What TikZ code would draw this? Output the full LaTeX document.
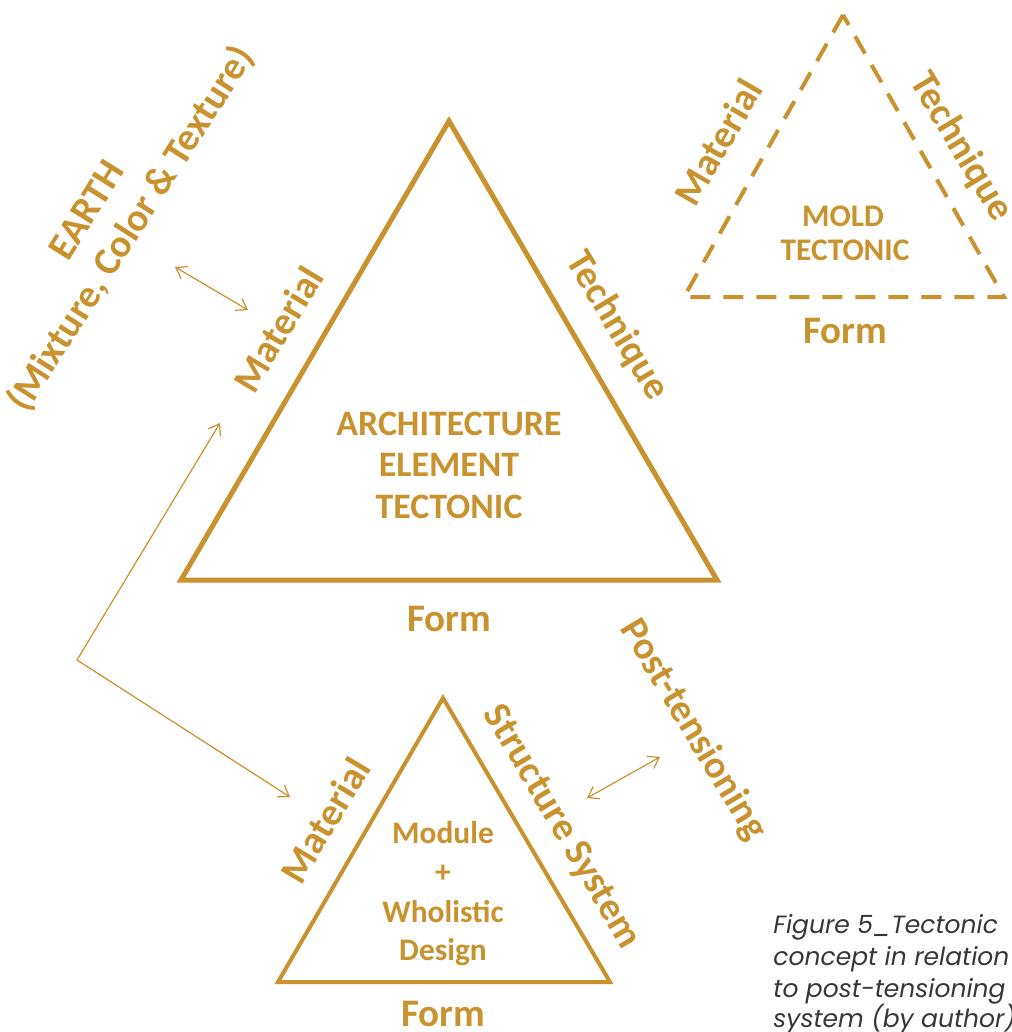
\documentclass[tikz,border=0pt]{standalone}
\usepackage{fontspec}
\setmainfont{Carlito}
\newfontfamily\capfont{Poppins}
\usetikzlibrary{arrows.meta}
\definecolor{gold}{RGB}{200,146,46}
\definecolor{capgray}{RGB}{55,55,55}
\begin{document}
\begin{tikzpicture}[x=0.5pt,y=-0.5pt,
  lbl/.style={text=gold,font=\fontsize{19.5}{24}\selectfont\bfseries,inner sep=0pt},
  bigin/.style={text=gold,font=\fontsize{17.9}{21}\selectfont\bfseries,inner sep=0pt,anchor=base},
  smallin/.style={text=gold,font=\fontsize{15.7}{18}\selectfont\bfseries,inner sep=0pt,anchor=base},
  capt/.style={text=capgray,font=\capfont\itshape\fontsize{12.5}{16}\selectfont,inner sep=0pt,anchor=base west},
  tri/.style={draw=gold,line width=2.5pt,line join=miter},
  tris/.style={draw=gold,line width=2pt,line join=miter},
  trid/.style={draw=gold,line width=2pt,dash pattern=on 10pt off 6.5pt},
  link/.style={draw=gold,line width=0.6pt},
  >={Straight Barb[length=5pt,width=7pt]}]
\useasboundingbox (0,0) rectangle (1011,1032);
% main triangle
\coordinate (mA) at (449,121);
\coordinate (mL) at (181,580);
\coordinate (mR) at (717,580);
\draw[tri] (mA) -- (mL) -- (mR) -- cycle;
% dashed triangle
\coordinate (dA) at (843,15);
\coordinate (dL) at (684,297);
\coordinate (dR) at (1004,297);
\draw[trid] (dA) -- (dL) -- (dR) -- cycle;
% small triangle
\coordinate (sA) at (443,698);
\coordinate (sL) at (278,982);
\coordinate (sR) at (610,982);
\draw[tris] (sA) -- (sL) -- (sR) -- cycle;
% connectors
\coordinate (e1) at (175,267);
\coordinate (e2) at (248,310);
\coordinate (p1) at (220,423);
\coordinate (pc) at (77,660);
\coordinate (p2) at (290,797);
\coordinate (t1) at (660,757);
\coordinate (t2) at (587,798);
\draw[link,<->] (e1) -- (e2);
\draw[link,<->] (p1) -- (pc) -- (p2);
\draw[link,<->] (t1) -- (t2);
% EARTH labels
\node[lbl,rotate=58] (earth) at (86,210) {EARTH};
\node[lbl,rotate=57.5] (mix) at (131,229) {(Mixture, Color \& Texture)};
% main labels
\node[lbl,rotate=59] (mMat) at (278,329) {Material};
\node[lbl,rotate=-59] (mTech) at (617,326) {Technique};
\node[bigin] (a1) at (449,435) {ARCHITECTURE};
\node[bigin] (a2) at (449,476) {ELEMENT};
\node[bigin] (a3) at (449,518) {TECTONIC};
\node[lbl,anchor=base] (mForm) at (449,631) {Form};
% dashed labels
\node[lbl,rotate=60] (dMat) at (718,142) {Material};
\node[lbl,rotate=-59] (dTech) at (961,147) {Technique};
\node[smallin] (m1) at (843,227) {MOLD};
\node[smallin] (m2) at (845,260) {TECTONIC};
\node[lbl,anchor=base] (dForm) at (845,343) {Form};
% small triangle labels
\node[lbl,rotate=59] (sMat) at (325,820) {Material};
\node[lbl,rotate=-59.5] (sStr) at (561,827) {Structure System};
\node[lbl,rotate=-59] (post) at (693,730) {Post-tensioning};
\node[smallin] (w1) at (443,843) {Module};
\node[smallin] (w2) at (443,882) {+};
\node[smallin] (w3) at (443,922) {Wholistic};
\node[smallin] (w4) at (443,960) {Design};
\node[lbl,anchor=base] (sForm) at (443,1026) {Form};
% caption
\node[capt] (c1) at (773,933) {Figure 5\_Tectonic};
\node[capt] (c2) at (773,965) {concept in relation};
\node[capt] (c3) at (773,997) {to post-tensioning};
\node[capt] (c4) at (773,1027) {system (by author)};
\end{tikzpicture}
\end{document}
